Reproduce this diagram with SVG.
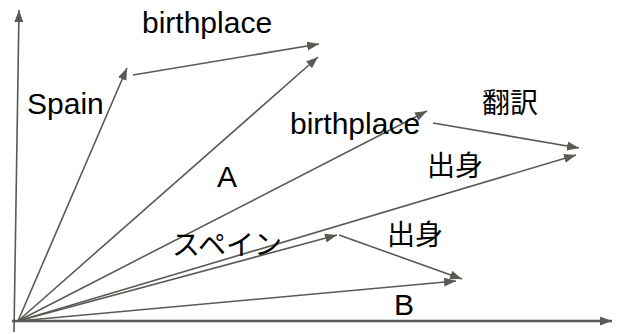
<svg xmlns="http://www.w3.org/2000/svg" width="617" height="334" viewBox="0 0 617 334">
<defs>
<marker id="ah" markerUnits="userSpaceOnUse" markerWidth="13" markerHeight="10" refX="12" refY="4.5" orient="auto">
<path d="M0,0 L12,4.5 L0,9 z" fill="#5a5a54"/>
</marker>
<style>
.ln{stroke:#5a5a54;stroke-width:1.6;fill:none}
.ax{stroke:#5a5a54;stroke-width:2.4;fill:none}
.t{font-family:"Liberation Sans","Noto Sans CJK JP",sans-serif;font-size:30px;fill:#000}
.j{font-family:"Noto Sans CJK JP",sans-serif;font-size:28px;fill:#000}
</style>
</defs>
<rect width="617" height="334" fill="#fff"/>
<g id="connectors">
<line class="ln" x1="14" y1="332" x2="19" y2="10" marker-end="url(#ah)"/>
<line class="ax" x1="12" y1="321" x2="612" y2="321" marker-end="url(#ah)"/>
<line class="ln" x1="18" y1="321" x2="127" y2="68" marker-end="url(#ah)"/>
<line class="ln" x1="133" y1="75" x2="319" y2="44" marker-end="url(#ah)"/>
<line class="ln" x1="18" y1="321" x2="318" y2="57" marker-end="url(#ah)"/>
<line class="ln" x1="18" y1="321" x2="427" y2="111" marker-end="url(#ah)"/>
<line class="ln" x1="433" y1="123" x2="579" y2="148" marker-end="url(#ah)"/>
<line class="ln" x1="18" y1="321" x2="576" y2="155" marker-end="url(#ah)"/>
<line class="ln" x1="18" y1="321" x2="337" y2="235" marker-end="url(#ah)"/>
<line class="ln" x1="339" y1="235" x2="462" y2="279" marker-end="url(#ah)"/>
<line class="ln" x1="18" y1="321" x2="456" y2="281" marker-end="url(#ah)"/>
</g>
<g id="label-birthplace-top"><text class="t" x="142" y="33">birthplace</text></g>
<g id="label-spain"><text class="t" x="27" y="114">Spain</text></g>
<g id="label-birthplace-mid"><text class="t" x="290" y="134">birthplace</text></g>
<g id="label-A"><text class="t" x="217" y="187">A</text></g>
<g id="label-B"><text class="t" x="394" y="315">B</text></g>
<g id="label-honyaku"><text class="j" x="482" y="113">翻訳</text></g>
<g id="label-shusshin-upper"><text class="j" x="427" y="176">出身</text></g>
<g id="label-spain-ja"><text class="j" x="172" y="255">スペイン</text></g>
<g id="label-shusshin-lower"><text class="j" x="387" y="245">出身</text></g>
</svg>
